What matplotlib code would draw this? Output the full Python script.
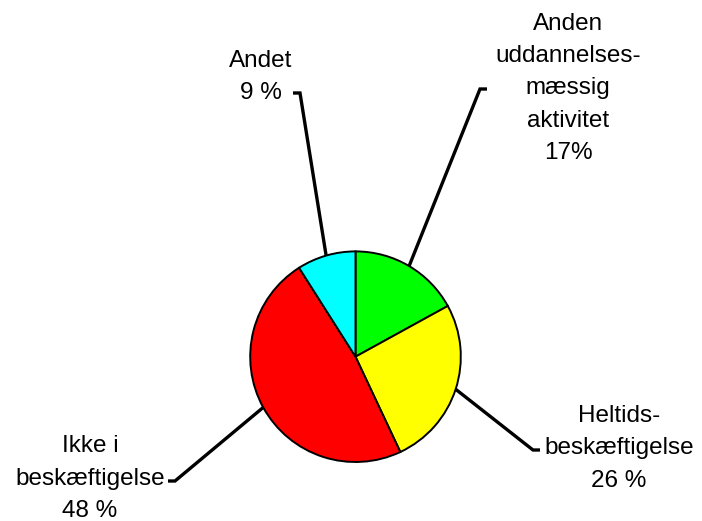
import numpy as np
import matplotlib.pyplot as plt

# ---------------------------------------------------------------
# Pie: fordeling efter aktivitet
# ---------------------------------------------------------------
labels = [
    "Anden\nuddannelses-\nmæssig\naktivitet\n17%",
    "Heltids-\nbeskæftigelse\n26 %",
    "Ikke i\nbeskæftigelse\n48 %",
    "Andet\n9 %",
]
shares = [17, 26, 48, 9]
colors = ["#00FF00", "#FFFF00", "#FF0000", "#00FFFF"]

W, H = 702, 521
plt.rcParams["font.family"] = ["Liberation Sans", "DejaVu Sans"]

fig = plt.figure(figsize=(W / 100, H / 100), dpi=100)
fig.patch.set_facecolor("white")
ax = fig.add_axes([0, 0, 1, 1])


def px(x, y):
    # layout given in pixels from the top-left corner
    return x, H - y


cx, cy = px(355.5, 356.7)
R = 105.3

wedges, _ = ax.pie(shares, colors=colors, startangle=90, counterclock=False,
                   center=(cx, cy), radius=R,
                   wedgeprops=dict(edgecolor="black", linewidth=1.4))

# leader line elbows, short end ticks and label anchors (pixels)
elbows = [(480, 89), (533, 450), (175, 481), (300, 93)]
ticks = [(487, 89), (540, 450), (168, 481), (293, 93)]
# baseline of the last line of each label
text_pos = [(568, 159), (619, 486.7), (90, 517), (261, 99)]

for w, lab, el, tk, tp in zip(wedges, labels, elbows, ticks, text_pos):
    mid = np.deg2rad((w.theta1 + w.theta2) / 2)
    sx, sy = cx + R * np.cos(mid), cy + R * np.sin(mid)
    ex, ey = px(*el)
    tx, ty = px(*tk)
    ax.plot([sx, ex, tx], [sy, ey, ty], color="black", linewidth=2.4,
            solid_joinstyle="miter", solid_capstyle="butt", zorder=1)
    lx, ly = px(*tp)
    ax.text(lx, ly, lab, ha="center", va="baseline", fontsize=17.5,
            linespacing=1.61, color="black")

ax.set_xlim(0, W)
ax.set_ylim(0, H)
ax.set_aspect("equal")
ax.axis("off")

fig.savefig("out.png", dpi=100)
